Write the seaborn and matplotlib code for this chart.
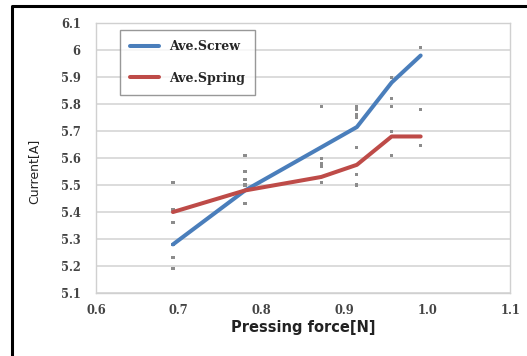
import pandas as pd
import matplotlib
matplotlib.use("Agg")
import matplotlib.pyplot as plt
import seaborn as sns
from matplotlib.lines import Line2D

# averaged curves
force = [0.693, 0.78, 0.872, 0.915, 0.957, 0.992]
ave_screw = [5.28, 5.48, 5.64, 5.715, 5.88, 5.98]
ave_spring = [5.40, 5.48, 5.53, 5.575, 5.68, 5.68]

# raw measurements (small grey points)
raw_x = [0.693] * 6 + [0.78] * 6 + [0.872] * 5 + [0.915] * 7 + [0.957] * 5 + [0.992] * 4
raw_y = [5.51, 5.41, 5.36, 5.28, 5.23, 5.19,
         5.61, 5.55, 5.52, 5.50, 5.48, 5.43,
         5.79, 5.60, 5.58, 5.57, 5.51,
         5.79, 5.78, 5.76, 5.75, 5.64, 5.54, 5.50,
         5.90, 5.82, 5.79, 5.70, 5.61,
         6.01, 5.78, 5.68, 5.645]

xticks = [0.6, 0.7, 0.8, 0.9, 1.0, 1.1]
xtick_labels = ["0.6", "0.7", "0.8", "0.9", "1.0", "1.1"]
yticks = [5.1, 5.2, 5.3, 5.4, 5.5, 5.6, 5.7, 5.8, 5.9, 6.0, 6.1]
ytick_labels = ["5.1", "5.2", "5.3", "5.4", "5.5", "5.6", "5.7", "5.8", "5.9", "6", "6.1"]

lines = pd.DataFrame({
    "force": force * 2,
    "current": ave_screw + ave_spring,
    "series": ["Ave.Screw"] * len(force) + ["Ave.Spring"] * len(force),
})
raw = pd.DataFrame({"force": raw_x, "current": raw_y})

sns.set_style("white")
fig = plt.figure(figsize=(5.27, 3.56), dpi=100)
ax = fig.add_axes([0.182, 0.177, 0.786, 0.758])

sns.scatterplot(data=raw, x="force", y="current", ax=ax, marker="s", s=5,
                color="#8c8c8c", edgecolor="none", zorder=2, legend=False)
sns.lineplot(data=lines, x="force", y="current", hue="series", ax=ax,
             palette={"Ave.Screw": "#4a7ebb", "Ave.Spring": "#be4b48"},
             linewidth=2.9, zorder=3)

ax.set_xlim(0.6, 1.1)
ax.set_ylim(5.1, 6.1)
ax.set_xticks(xticks)
ax.set_xticklabels(xtick_labels)
ax.set_yticks(yticks)
ax.set_yticklabels(ytick_labels)
ax.yaxis.grid(True, color="#d9d9d9", linewidth=1.3)
ax.xaxis.grid(False)
for s in ax.spines.values():
    s.set_color("#d0d0d0")
    s.set_linewidth(1)
ax.tick_params(axis="both", length=0, colors="#444444")
ax.tick_params(axis="y", pad=11)
ax.tick_params(axis="x", pad=8)
for lab in ax.get_xticklabels() + ax.get_yticklabels():
    lab.set_family("DejaVu Serif")
    lab.set_fontweight("bold")
    lab.set_fontsize(8.3)

ax.set_xlabel("Pressing force[N]", fontsize=10.5, fontweight="bold",
              color="#222222", labelpad=2)
ax.set_ylabel("Current[A]", fontsize=9, color="#222222",
              family=["Liberation Sans Narrow", "DejaVu Sans"])
ax.yaxis.set_label_coords(-0.135, 0.45)

leg = ax.legend(loc="upper left", bbox_to_anchor=(0.058, 0.975), frameon=True,
                fancybox=False, edgecolor="#7f7f7f", handlelength=2.3,
                labelspacing=1.5, borderpad=0.8, handletextpad=0.8,
                borderaxespad=0,
                prop={"family": "DejaVu Serif", "weight": "bold", "size": 9})
leg.get_frame().set_linewidth(1)
for h in leg.get_lines():
    h.set_linewidth(2.9)

# outer black frame (top and left edges visible)
fx = 12 / 527
fy = 1 - 6 / 356
fig.add_artist(Line2D([fx, fx, 1.0], [0.0, fy, fy], transform=fig.transFigure,
                      color="black", linewidth=2.2))

fig.savefig("out.png", dpi=100)
